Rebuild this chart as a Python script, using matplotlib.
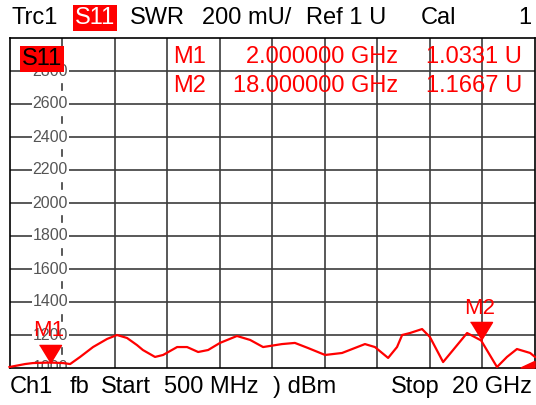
import matplotlib
matplotlib.use('Agg')
import matplotlib.pyplot as plt
from matplotlib.patches import Polygon

# trace S11, SWR in mU
freq_ghz = [0.5, 1.08, 1.37, 2.0, 2.49, 2.75, 3.12, 3.6, 4.12, 4.49, 4.86, 5.23,
            5.45, 5.9, 6.2, 6.72, 7.09, 7.5, 7.87, 8.31, 8.94, 9.43, 9.91, 10.61,
            11.09, 11.58, 12.21, 12.84, 13.69, 14.06, 14.55, 14.88, 15.07, 15.36,
            15.81, 16.1, 16.59, 16.96, 17.48, 18.0, 18.59, 18.96, 19.33, 19.82, 20.0]
swr_mu = [1006, 1024, 1030, 1033, 1030, 1024, 1067, 1127, 1176, 1200, 1182, 1139,
          1109, 1067, 1079, 1127, 1127, 1097, 1109, 1152, 1194, 1170, 1127, 1145,
          1152, 1121, 1079, 1091, 1145, 1127, 1061, 1127, 1200, 1212,
          1236, 1188, 1036, 1109, 1212, 1167, 1006, 1067, 1115, 1091, 1067]

# markers
marker_names = ['M1', 'M2']
marker_freq = [2.0, 18.0]
marker_swr = [1033.1, 1166.7]
marker_freq_text = ['2.000000 GHz', '18.000000 GHz']
marker_swr_text = ['1.0331 U', '1.1667 U']

# y scale labels
y_labels = [2800, 2600, 2400, 2200, 2000, 1800, 1600, 1400, 1200, 1000]

W, H = 536, 405
RED = '#ff0000'
GRID = '#3c3c3c'


def fx(px):
    return px / W


def fy(py):
    return 1 - py / H


def draw():
    plt.rcParams['font.family'] = ['Liberation Sans', 'DejaVu Sans']
    fig = plt.figure(figsize=(W / 100, H / 100), dpi=100)
    ax = fig.add_axes([fx(9.5), (H - 368) / H, 525.5 / W, 330 / H])
    f0, f1 = 0.5, 20.0
    ax.set_xlim(f0, f1)
    ax.set_ylim(1000, 3000)
    ax.set_xticks([])
    ax.set_yticks([])
    for s in ax.spines.values():
        s.set_color('black')
        s.set_linewidth(1.2)

    # graticule, 10 x 10
    step = (f1 - f0) / 10
    for i in range(1, 10):
        if i == 1:
            ax.plot([f0 + step, f0 + step], [2850, 3000], color=GRID, lw=1.2, zorder=1)
        else:
            ax.axvline(f0 + i * step, color=GRID, lw=1.2, zorder=1)
    for v in range(1200, 3000, 200):
        ax.axhline(v, color=GRID, lw=1.2, zorder=1)
    # small marks on the scale line
    for v in range(1100, 2800, 200):
        ax.plot([f0 + step, f0 + step], [v - 15, v + 20], color=GRID, lw=1.2, zorder=1)

    # scale labels
    for v in y_labels:
        ax.text(0.1113, v, str(v), transform=ax.get_yaxis_transform(), ha='right',
                va='center', fontsize=11.5, color='#555555', zorder=2, clip_on=True,
                bbox=dict(facecolor='white', edgecolor='none', pad=0.6))

    # trace
    ax.plot(freq_ghz, swr_mu, color=RED, lw=1.6, zorder=3, clip_on=False,
            solid_joinstyle='round')

    # markers
    tri = [(-0.61, 1), (0.61, 1), (0, 0)]
    for name, f, v in zip(marker_names, marker_freq, marker_swr):
        ax.plot(f, v, marker=tri, markersize=26, color=RED, zorder=4, clip_on=False)
        ax.annotate(name, (f, v), xytext=(-1, 32), textcoords='offset pixels',
                    ha='center', va='center', color=RED, fontsize=16, zorder=5)

    # marker readout
    for i in range(2):
        yy = 57 + 29 * i
        fig.text(fx(173), fy(yy), marker_names[i], color=RED, fontsize=17, va='center')
        fig.text(fx(398), fy(yy), marker_freq_text[i], color=RED, fontsize=17,
                 va='center', ha='right')
        fig.text(fx(522), fy(yy), marker_swr_text[i], color=RED, fontsize=17,
                 va='center', ha='right')

    # trace label in the diagram
    fig.text(fx(22), fy(59), 'S11', color='black', fontsize=17, va='center',
             bbox=dict(facecolor=RED, edgecolor='none', pad=1.2))

    # reference triangle at the right edge
    ax.add_patch(Polygon([(1.0, 0.0), (1.0, 0.02), (0.973, 0.0)], closed=True,
                         transform=ax.transAxes, color=RED, clip_on=False, zorder=4))

    # header line
    fig.text(fx(12), fy(18), 'Trc1', fontsize=17, va='center')
    fig.text(fx(75), fy(18), 'S11', fontsize=17, va='center', color='white',
             bbox=dict(facecolor=RED, edgecolor='none', pad=1.5))
    fig.text(fx(130), fy(18), 'SWR', fontsize=17, va='center')
    fig.text(fx(202), fy(18), '200 mU/', fontsize=17, va='center')
    fig.text(fx(306), fy(18), 'Ref 1 U', fontsize=17, va='center')
    fig.text(fx(421), fy(18), 'Cal', fontsize=17, va='center')
    fig.text(fx(531), fy(18), '1', fontsize=17, va='center', ha='right')

    # footer line
    fig.text(fx(10), fy(387), 'Ch1', fontsize=17, va='center')
    fig.text(fx(70), fy(387), 'fb', fontsize=17, va='center')
    fig.text(fx(101), fy(387), 'Start', fontsize=17, va='center')
    fig.text(fx(164), fy(387), '500 MHz', fontsize=17, va='center')
    fig.text(fx(273), fy(387), ') dBm', fontsize=17, va='center')
    fig.text(fx(391), fy(387), 'Stop', fontsize=17, va='center')
    fig.text(fx(532), fy(387), '20 GHz', fontsize=17, va='center', ha='right')

    fig.savefig('out.png', dpi=100)


if __name__ == '__main__':
    draw()
